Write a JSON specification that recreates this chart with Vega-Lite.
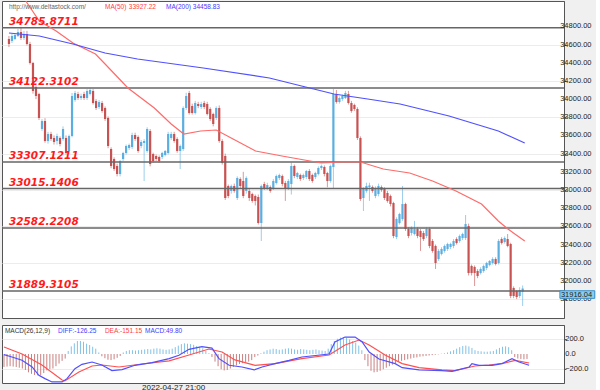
{
"$schema": "https://vega.github.io/schema/vega-lite/v6.json",
"padding": 0,
"background": "#f0f0f0",
"spacing": 5,
"config": {"view": {"stroke": "#555", "strokeWidth": 1, "fill": "white"}, "font": "Liberation Sans",
 "axis": {"labelFont": "Liberation Sans", "labelColor": "#222", "tickColor": "#555", "domainColor": "#555", "gridColor": "#ececec", "title": null}},
"datasets": {
"candles": [
{"t":0,"o":34661,"h":34694,"l":34573,"c":34606,"m":-170},
{"t":1,"o":34639,"h":34716,"l":34617,"c":34694,"m":-165},
{"t":2,"o":34661,"h":34727,"l":34650,"c":34705,"m":-160},
{"t":3,"o":34694,"h":34771,"l":34683,"c":34738,"m":-165},
{"t":4,"o":34738,"h":34782,"l":34650,"c":34672,"m":-170},
{"t":5,"o":34672,"h":34750,"l":34650,"c":34716,"m":-180},
{"t":6,"o":34716,"h":34750,"l":34590,"c":34606,"m":-190},
{"t":7,"o":34606,"h":34630,"l":34380,"c":34397,"m":-210},
{"t":8,"o":34397,"h":34410,"l":34060,"c":34089,"m":-240},
{"t":9,"o":34133,"h":34150,"l":34000,"c":34034,"m":-260},
{"t":10,"o":34056,"h":34070,"l":33770,"c":33792,"m":-275},
{"t":11,"o":33671,"h":33780,"l":33650,"c":33759,"m":-280},
{"t":12,"o":33759,"h":33790,"l":33520,"c":33539,"m":-280},
{"t":13,"o":33539,"h":33640,"l":33510,"c":33616,"m":-250},
{"t":14,"o":33616,"h":33640,"l":33540,"c":33561,"m":-215},
{"t":15,"o":33572,"h":33600,"l":33500,"c":33528,"m":-200},
{"t":16,"o":33539,"h":33620,"l":33500,"c":33594,"m":-190},
{"t":17,"o":33572,"h":33590,"l":33480,"c":33506,"m":-160},
{"t":18,"o":33561,"h":33700,"l":33540,"c":33671,"m":-125},
{"t":19,"o":33572,"h":33600,"l":33390,"c":33407,"m":-90},
{"t":20,"o":33429,"h":33610,"l":33400,"c":33594,"m":-60},
{"t":21,"o":33594,"h":34067,"l":33580,"c":34034,"m":40},
{"t":22,"o":33990,"h":34090,"l":33970,"c":34067,"m":100},
{"t":23,"o":34056,"h":34080,"l":33990,"c":34012,"m":140},
{"t":24,"o":34012,"h":34060,"l":33990,"c":34034,"m":170},
{"t":25,"o":34056,"h":34080,"l":33990,"c":34012,"m":170},
{"t":26,"o":34012,"h":34110,"l":33990,"c":34089,"m":160},
{"t":27,"o":34056,"h":34120,"l":34040,"c":34100,"m":135},
{"t":28,"o":34089,"h":34110,"l":33940,"c":33957,"m":118},
{"t":29,"o":33979,"h":34000,"l":33880,"c":33902,"m":95},
{"t":30,"o":33913,"h":33990,"l":33890,"c":33968,"m":70},
{"t":31,"o":33957,"h":33980,"l":33850,"c":33869,"m":20},
{"t":32,"o":33902,"h":33920,"l":33760,"c":33781,"m":-30},
{"t":33,"o":33792,"h":33810,"l":33460,"c":33484,"m":-55},
{"t":34,"o":33451,"h":33470,"l":33240,"c":33264,"m":-75},
{"t":35,"o":33341,"h":33360,"l":33210,"c":33231,"m":-80},
{"t":36,"o":33264,"h":33290,"l":33150,"c":33176,"m":-70},
{"t":37,"o":33176,"h":33330,"l":33150,"c":33319,"m":-50},
{"t":38,"o":33341,"h":33420,"l":33320,"c":33407,"m":-25},
{"t":39,"o":33407,"h":33500,"l":33390,"c":33484,"m":20},
{"t":40,"o":33462,"h":33510,"l":33440,"c":33495,"m":40},
{"t":41,"o":33473,"h":33630,"l":33450,"c":33605,"m":50},
{"t":42,"o":33605,"h":33630,"l":33540,"c":33561,"m":50},
{"t":43,"o":33583,"h":33600,"l":33410,"c":33429,"m":45},
{"t":44,"o":33484,"h":33550,"l":33460,"c":33528,"m":50},
{"t":45,"o":33517,"h":33560,"l":33099,"c":33539,"m":55},
{"t":46,"o":33429,"h":33690,"l":33410,"c":33671,"m":60},
{"t":47,"o":33649,"h":33671,"l":33260,"c":33286,"m":65},
{"t":48,"o":33396,"h":33410,"l":33300,"c":33319,"m":60},
{"t":49,"o":33374,"h":33390,"l":33320,"c":33341,"m":70},
{"t":50,"o":33363,"h":33380,"l":33300,"c":33319,"m":75},
{"t":51,"o":33363,"h":33420,"l":33340,"c":33407,"m":70},
{"t":52,"o":33385,"h":33440,"l":33370,"c":33429,"m":60},
{"t":53,"o":33407,"h":33640,"l":33390,"c":33616,"m":55},
{"t":54,"o":33572,"h":33640,"l":33550,"c":33616,"m":60},
{"t":55,"o":33616,"h":33640,"l":33520,"c":33539,"m":70},
{"t":56,"o":33561,"h":33580,"l":33410,"c":33429,"m":90},
{"t":57,"o":33429,"h":33500,"l":33231,"c":33484,"m":110},
{"t":58,"o":33451,"h":33920,"l":33430,"c":33902,"m":130},
{"t":59,"o":33902,"h":34070,"l":33880,"c":34034,"m":140},
{"t":60,"o":34067,"h":34090,"l":33830,"c":33847,"m":135},
{"t":61,"o":33924,"h":33950,"l":33830,"c":33847,"m":130},
{"t":62,"o":33847,"h":33980,"l":33830,"c":33957,"m":120},
{"t":63,"o":33946,"h":33970,"l":33900,"c":33924,"m":105},
{"t":64,"o":33913,"h":33970,"l":33890,"c":33946,"m":95},
{"t":65,"o":33957,"h":33980,"l":33890,"c":33913,"m":75},
{"t":66,"o":33946,"h":33970,"l":33820,"c":33836,"m":40},
{"t":67,"o":33891,"h":33910,"l":33760,"c":33781,"m":10},
{"t":68,"o":33836,"h":33850,"l":33700,"c":33726,"m":-40},
{"t":69,"o":33792,"h":33920,"l":33770,"c":33902,"m":-100},
{"t":70,"o":33902,"h":33930,"l":33520,"c":33539,"m":-160},
{"t":71,"o":33539,"h":33560,"l":33280,"c":33297,"m":-200},
{"t":72,"o":33374,"h":33400,"l":32890,"c":32912,"m":-215},
{"t":73,"o":33044,"h":33060,"l":32910,"c":32934,"m":-210},
{"t":74,"o":32989,"h":33060,"l":32960,"c":33044,"m":-190},
{"t":75,"o":33044,"h":33070,"l":32970,"c":32989,"m":-170},
{"t":76,"o":32912,"h":33150,"l":32890,"c":33132,"m":-150},
{"t":77,"o":33121,"h":33140,"l":33020,"c":33044,"m":-130},
{"t":78,"o":33099,"h":33200,"l":32910,"c":32934,"m":-120},
{"t":79,"o":32989,"h":33150,"l":32960,"c":33132,"m":-110},
{"t":80,"o":32989,"h":33010,"l":32880,"c":32912,"m":-100},
{"t":81,"o":32956,"h":32970,"l":32860,"c":32879,"m":-80},
{"t":82,"o":32934,"h":32950,"l":32830,"c":32879,"m":-40},
{"t":83,"o":32923,"h":32950,"l":32620,"c":32637,"m":-20},
{"t":84,"o":32637,"h":33060,"l":32439,"c":33044,"m":10},
{"t":85,"o":33066,"h":33090,"l":33000,"c":33022,"m":30},
{"t":86,"o":33022,"h":33080,"l":33000,"c":33055,"m":50},
{"t":87,"o":33033,"h":33050,"l":32970,"c":32989,"m":60},
{"t":88,"o":33022,"h":33120,"l":33000,"c":33099,"m":70},
{"t":89,"o":33077,"h":33170,"l":33060,"c":33154,"m":65},
{"t":90,"o":33132,"h":33180,"l":33110,"c":33165,"m":55},
{"t":91,"o":33154,"h":33170,"l":33040,"c":33066,"m":60},
{"t":92,"o":33077,"h":33100,"l":32880,"c":33011,"m":70},
{"t":93,"o":33022,"h":33120,"l":33000,"c":33099,"m":75},
{"t":94,"o":33066,"h":33300,"l":32950,"c":33264,"m":70},
{"t":95,"o":33264,"h":33280,"l":33130,"c":33154,"m":60},
{"t":96,"o":33143,"h":33200,"l":33120,"c":33187,"m":55},
{"t":97,"o":33165,"h":33180,"l":33100,"c":33121,"m":65},
{"t":98,"o":33132,"h":33180,"l":33110,"c":33165,"m":60},
{"t":99,"o":33143,"h":33220,"l":33120,"c":33209,"m":55},
{"t":100,"o":33209,"h":33230,"l":33100,"c":33121,"m":50},
{"t":101,"o":33165,"h":33180,"l":33080,"c":33099,"m":55},
{"t":102,"o":33143,"h":33200,"l":33120,"c":33187,"m":60},
{"t":103,"o":33176,"h":33260,"l":33160,"c":33242,"m":50},
{"t":104,"o":33242,"h":33280,"l":33220,"c":33264,"m":45},
{"t":105,"o":33253,"h":33270,"l":33150,"c":33176,"m":40},
{"t":106,"o":33187,"h":33200,"l":33030,"c":33099,"m":70},
{"t":107,"o":33099,"h":33280,"l":33080,"c":33264,"m":130},
{"t":108,"o":33253,"h":34111,"l":33022,"c":34056,"m":170},
{"t":109,"o":34056,"h":34100,"l":33950,"c":33968,"m":200},
{"t":110,"o":33968,"h":34030,"l":33950,"c":34012,"m":215},
{"t":111,"o":34001,"h":34050,"l":33980,"c":34034,"m":220},
{"t":112,"o":34012,"h":34090,"l":34000,"c":34067,"m":210},
{"t":113,"o":34056,"h":34090,"l":33940,"c":33957,"m":190},
{"t":114,"o":33957,"h":33980,"l":33850,"c":33869,"m":170},
{"t":115,"o":33935,"h":33950,"l":33870,"c":33891,"m":150},
{"t":116,"o":33891,"h":33910,"l":33550,"c":33572,"m":110},
{"t":117,"o":33572,"h":33590,"l":32880,"c":32901,"m":50},
{"t":118,"o":32912,"h":33030,"l":32769,"c":33011,"m":-80},
{"t":119,"o":32989,"h":33080,"l":32970,"c":33044,"m":-160},
{"t":120,"o":33033,"h":33080,"l":32880,"c":33050,"m":-220},
{"t":121,"o":33033,"h":33050,"l":32970,"c":32989,"m":-240},
{"t":122,"o":32934,"h":33040,"l":32910,"c":33022,"m":-235},
{"t":123,"o":32956,"h":33070,"l":32930,"c":33044,"m":-220},
{"t":124,"o":33033,"h":33050,"l":32980,"c":33000,"m":-200},
{"t":125,"o":33011,"h":33030,"l":32890,"c":32912,"m":-180},
{"t":126,"o":32967,"h":32990,"l":32860,"c":32879,"m":-160},
{"t":127,"o":32934,"h":32950,"l":32820,"c":32846,"m":-140},
{"t":128,"o":32857,"h":32870,"l":32470,"c":32494,"m":-120},
{"t":129,"o":32483,"h":32700,"l":32460,"c":32681,"m":-100},
{"t":130,"o":32637,"h":32750,"l":32620,"c":32736,"m":-90},
{"t":131,"o":32681,"h":33044,"l":32660,"c":32846,"m":-80},
{"t":132,"o":32846,"h":32860,"l":32550,"c":32571,"m":-70},
{"t":133,"o":32571,"h":32590,"l":32470,"c":32494,"m":-60},
{"t":134,"o":32527,"h":32600,"l":32500,"c":32582,"m":-50},
{"t":135,"o":32516,"h":32660,"l":32500,"c":32571,"m":-45},
{"t":136,"o":32571,"h":32590,"l":32470,"c":32494,"m":-35},
{"t":137,"o":32549,"h":32570,"l":32330,"c":32483,"m":-30},
{"t":138,"o":32527,"h":32550,"l":32440,"c":32461,"m":-25},
{"t":139,"o":32494,"h":32590,"l":32470,"c":32571,"m":-20},
{"t":140,"o":32571,"h":32590,"l":32360,"c":32384,"m":-15},
{"t":141,"o":32439,"h":32460,"l":32310,"c":32329,"m":-10},
{"t":142,"o":32384,"h":32400,"l":32131,"c":32197,"m":-5},
{"t":143,"o":32241,"h":32350,"l":32220,"c":32329,"m":5},
{"t":144,"o":32296,"h":32370,"l":32280,"c":32351,"m":10},
{"t":145,"o":32329,"h":32400,"l":32310,"c":32384,"m":20},
{"t":146,"o":32351,"h":32420,"l":32330,"c":32406,"m":35},
{"t":147,"o":32373,"h":32420,"l":32350,"c":32406,"m":50},
{"t":148,"o":32384,"h":32460,"l":32360,"c":32439,"m":70},
{"t":149,"o":32461,"h":32480,"l":32400,"c":32417,"m":90},
{"t":150,"o":32439,"h":32510,"l":32420,"c":32494,"m":105},
{"t":151,"o":32472,"h":32530,"l":32450,"c":32516,"m":110},
{"t":152,"o":32472,"h":32725,"l":32450,"c":32626,"m":100},
{"t":153,"o":32604,"h":32630,"l":32060,"c":32087,"m":80},
{"t":154,"o":32164,"h":32180,"l":32060,"c":32087,"m":50},
{"t":155,"o":32153,"h":32170,"l":31944,"c":32087,"m":40},
{"t":156,"o":32109,"h":32130,"l":32030,"c":32054,"m":35},
{"t":157,"o":32087,"h":32150,"l":32070,"c":32131,"m":30},
{"t":158,"o":32109,"h":32180,"l":32090,"c":32164,"m":30},
{"t":159,"o":32142,"h":32210,"l":32120,"c":32197,"m":35},
{"t":160,"o":32175,"h":32230,"l":32160,"c":32219,"m":40},
{"t":161,"o":32197,"h":32260,"l":32180,"c":32241,"m":60},
{"t":162,"o":32241,"h":32260,"l":32170,"c":32186,"m":80},
{"t":163,"o":32197,"h":32460,"l":32180,"c":32439,"m":95},
{"t":164,"o":32461,"h":32480,"l":32400,"c":32417,"m":100},
{"t":165,"o":32428,"h":32490,"l":32410,"c":32472,"m":90},
{"t":166,"o":32461,"h":32516,"l":32370,"c":32384,"m":50},
{"t":167,"o":32406,"h":32420,"l":31810,"c":31834,"m":-40},
{"t":168,"o":31922,"h":31940,"l":31810,"c":31834,"m":-60},
{"t":169,"o":31889,"h":31900,"l":31800,"c":31823,"m":-65},
{"t":170,"o":31834,"h":31930,"l":31810,"c":31900,"m":-70},
{"t":171,"o":31880,"h":31950,"l":31724,"c":31916.04,"m":-65}
],
"ma": [
{"s":"MA50","t":0,"v":35400},{"s":"MA50","t":6,"v":35060},{"s":"MA50","t":10.1,"v":34859},{"s":"MA50","t":15.7,"v":34749},{"s":"MA50","t":21.3,"v":34617},{"s":"MA50","t":28.8,"v":34496},{"s":"MA50","t":32,"v":34386},{"s":"MA50","t":39.6,"v":34122},{"s":"MA50","t":48.4,"v":33902},{"s":"MA50","t":54,"v":33726},{"s":"MA50","t":58.2,"v":33616},{"s":"MA50","t":63.8,"v":33649},{"s":"MA50","t":69,"v":33660},{"s":"MA50","t":74.6,"v":33561},{"s":"MA50","t":82.1,"v":33429},{"s":"MA50","t":90.9,"v":33374},{"s":"MA50","t":96.5,"v":33341},{"s":"MA50","t":104,"v":33297},{"s":"MA50","t":110.5,"v":33308},{"s":"MA50","t":117,"v":33308},{"s":"MA50","t":124.6,"v":33231},{"s":"MA50","t":133.4,"v":33187},{"s":"MA50","t":141,"v":33099},{"s":"MA50","t":148.8,"v":32989},{"s":"MA50","t":157.3,"v":32846},{"s":"MA50","t":162.9,"v":32659},{"s":"MA50","t":166.1,"v":32571},{"s":"MA50","t":168.4,"v":32516},{"s":"MA50","t":171.7,"v":32439},
{"s":"MA200","t":0,"v":34727},{"s":"MA200","t":10.1,"v":34694},{"s":"MA200","t":21.3,"v":34606},{"s":"MA200","t":32,"v":34507},{"s":"MA200","t":42.8,"v":34441},{"s":"MA200","t":64.7,"v":34342},{"s":"MA200","t":86.7,"v":34232},{"s":"MA200","t":97.4,"v":34144},{"s":"MA200","t":108.2,"v":34056},{"s":"MA200","t":119.4,"v":34001},{"s":"MA200","t":130.2,"v":33946},{"s":"MA200","t":146.5,"v":33814},{"s":"MA200","t":162.9,"v":33649},{"s":"MA200","t":171.7,"v":33517}
],
"macd": [
{"s":"DIFF","t":0,"v":-9},{"s":"DIFF","t":2.6,"v":-39},{"s":"DIFF","t":5.9,"v":-82},{"s":"DIFF","t":9.2,"v":-170},{"s":"DIFF","t":11.4,"v":-279},{"s":"DIFF","t":13.4,"v":-323},{"s":"DIFF","t":15.7,"v":-366},{"s":"DIFF","t":19,"v":-366},{"s":"DIFF","t":20.6,"v":-323},{"s":"DIFF","t":23.2,"v":-192},{"s":"DIFF","t":25.5,"v":-135},{"s":"DIFF","t":28.8,"v":-105},{"s":"DIFF","t":32,"v":-144},{"s":"DIFF","t":35.3,"v":-218},{"s":"DIFF","t":38.6,"v":-205},{"s":"DIFF","t":42.8,"v":-148},{"s":"DIFF","t":48.4,"v":-113},{"s":"DIFF","t":54,"v":-61},{"s":"DIFF","t":57.2,"v":-17},{"s":"DIFF","t":60.5,"v":61},{"s":"DIFF","t":64.7,"v":96},{"s":"DIFF","t":68,"v":78},{"s":"DIFF","t":70.3,"v":-61},{"s":"DIFF","t":73.6,"v":-148},{"s":"DIFF","t":77.8,"v":-170},{"s":"DIFF","t":81.8,"v":-209},{"s":"DIFF","t":84.4,"v":-170},{"s":"DIFF","t":88.6,"v":-126},{"s":"DIFF","t":93.2,"v":-83},{"s":"DIFF","t":97.4,"v":-39},{"s":"DIFF","t":106.3,"v":0},{"s":"DIFF","t":108.2,"v":157},{"s":"DIFF","t":111.5,"v":222},{"s":"DIFF","t":114.8,"v":222},{"s":"DIFF","t":117.1,"v":157},{"s":"DIFF","t":119.4,"v":26},{"s":"DIFF","t":122.6,"v":-65},{"s":"DIFF","t":127.9,"v":-126},{"s":"DIFF","t":130.2,"v":-179},{"s":"DIFF","t":135.7,"v":-209},{"s":"DIFF","t":143.2,"v":-218},{"s":"DIFF","t":146.5,"v":-228},{"s":"DIFF","t":152.1,"v":-170},{"s":"DIFF","t":153,"v":-126},{"s":"DIFF","t":155.3,"v":-148},{"s":"DIFF","t":159.6,"v":-148},{"s":"DIFF","t":162.9,"v":-126},{"s":"DIFF","t":166.1,"v":-61},{"s":"DIFF","t":168.4,"v":-105},{"s":"DIFF","t":171.7,"v":-148},
{"s":"DEA","t":0,"v":92},{"s":"DEA","t":5.9,"v":0},{"s":"DEA","t":12.4,"v":-144},{"s":"DEA","t":19,"v":-340},{"s":"DEA","t":19.9,"v":-353},{"s":"DEA","t":24.5,"v":-235},{"s":"DEA","t":28.8,"v":-157},{"s":"DEA","t":32,"v":-144},{"s":"DEA","t":37.6,"v":-170},{"s":"DEA","t":45.1,"v":-131},{"s":"DEA","t":54,"v":-91},{"s":"DEA","t":60.5,"v":-13},{"s":"DEA","t":67,"v":65},{"s":"DEA","t":71.3,"v":26},{"s":"DEA","t":75.5,"v":-78},{"s":"DEA","t":82.1,"v":-148},{"s":"DEA","t":88.6,"v":-126},{"s":"DEA","t":97.4,"v":-61},{"s":"DEA","t":106.3,"v":-13},{"s":"DEA","t":111.5,"v":118},{"s":"DEA","t":116.1,"v":183},{"s":"DEA","t":119.4,"v":118},{"s":"DEA","t":124.6,"v":-13},{"s":"DEA","t":130.2,"v":-126},{"s":"DEA","t":135.7,"v":-179},{"s":"DEA","t":143.2,"v":-209},{"s":"DEA","t":147.5,"v":-218},{"s":"DEA","t":154,"v":-157},{"s":"DEA","t":158.6,"v":-144},{"s":"DEA","t":163.8,"v":-118},{"s":"DEA","t":167.1,"v":-83},{"s":"DEA","t":171.7,"v":-118}
],
"levels": [
{"p":34785.8711,"lab":"34785.8711"},{"p":34122.3102,"lab":"34122.3102"},{"p":33307.1211,"lab":"33307.1211"},{"p":33015.1406,"lab":"33015.1406"},{"p":32582.2208,"lab":"32582.2208"},{"p":31889.3105,"lab":"31889.3105"}
],
"pticks": [{"v":31800},{"v":32000},{"v":32200},{"v":32400},{"v":32600},{"v":32800},{"v":33000},{"v":33200},{"v":33400},{"v":33600},{"v":33800},{"v":34000},{"v":34200},{"v":34400},{"v":34600},{"v":34800}],
"mticks": [{"v":-200},{"v":0},{"v":200}],
"hdr": [
{"t":0,"txt":"http://www.deltastock.com/","col":"#666666"},{"t":32,"txt":"MA(50)","col":"#ff4040"},{"t":39.9,"txt":"33927.22","col":"#ff4040"},{"t":52.3,"txt":"MA(200)","col":"#4040ff"},{"t":61.2,"txt":"34458.83","col":"#4040ff"}
],
"mhdr": [
{"t":0.3,"txt":"MACD(26,12,9)","col":"#333333"},{"t":17.7,"txt":"DIFF:-126.25","col":"#4040ff"},{"t":33,"txt":"DEA:-151.15","col":"#ff4040"},{"t":46.1,"txt":"MACD:49.80","col":"#4040ff"}
]
},
"vconcat": [
{
"width": 562, "height": 317,
"layer": [
{"data": {"name": "candles"}, "mark": {"type": "rule", "strokeWidth": 1, "opacity": 0.6},
 "encoding": {
  "x": {"field": "t", "type": "quantitative", "scale": {"domain": [-0.65, 183.1], "nice": false, "zero": false}, "axis": null},
  "y": {"field": "l", "type": "quantitative", "scale": {"domain": [31592, 35079], "nice": false, "zero": false},
        "axis": {"orient": "right", "values": [31800,32000,32200,32400,32600,32800,33000,33200,33400,33600,33800,34000,34200,34400,34600,34800], "labels": false, "tickSize": 2, "grid": true}},
  "y2": {"field": "h"},
  "color": {"condition": {"test": "datum.c >= datum.o", "value": "#5aaee0"}, "value": "#c85252"}}},
{"data": {"name": "candles"}, "mark": {"type": "bar", "size": 2.2},
 "encoding": {
  "x": {"field": "t", "type": "quantitative"},
  "y": {"field": "o", "type": "quantitative"},
  "y2": {"field": "c"},
  "color": {"condition": {"test": "datum.c >= datum.o", "value": "#5aaee0"}, "value": "#c85252"}}},
{"data": {"name": "levels"}, "mark": {"type": "rule", "color": "#666666", "strokeWidth": 1.5},
 "encoding": {"y": {"field": "p", "type": "quantitative"}}},
{"data": {"name": "ma"}, "transform": [{"filter": "datum.s == 'MA50'"}], "mark": {"type": "line", "color": "#ff6a6a", "strokeWidth": 1.2, "clip": true},
 "encoding": {"x": {"field": "t", "type": "quantitative"}, "y": {"field": "v", "type": "quantitative"}}},
{"data": {"name": "ma"}, "transform": [{"filter": "datum.s == 'MA200'"}], "mark": {"type": "line", "color": "#5050ff", "strokeWidth": 1.2, "clip": true},
 "encoding": {"x": {"field": "t", "type": "quantitative"}, "y": {"field": "v", "type": "quantitative"}}},
{"data": {"name": "levels"}, "mark": {"type": "text", "align": "left", "baseline": "alphabetic", "dy": -3, "font": "DejaVu Sans", "fontSize": 10.5, "fontWeight": "bold", "fontStyle": "italic", "color": "#ff1a1a"},
 "encoding": {"x": {"datum": 0}, "y": {"field": "p", "type": "quantitative"}, "text": {"field": "lab"}}},
{"data": {"name": "hdr"}, "mark": {"type": "text", "align": "left", "baseline": "middle", "fontSize": 6.5},
 "encoding": {"x": {"field": "t", "type": "quantitative"}, "y": {"datum": 35013}, "text": {"field": "txt"}, "color": {"field": "col", "type": "nominal", "scale": null}}},
{"data": {"name": "pticks"}, "mark": {"type": "text", "align": "left", "baseline": "middle", "fontSize": 7.5, "color": "#222"},
 "encoding": {"x": {"datum": 183.5}, "y": {"field": "v", "type": "quantitative"}, "text": {"field": "v", "type": "quantitative", "format": ".2f"}}},
{"data": {"values": [{"a": 1}]}, "mark": {"type": "rect", "fill": "#87cef0", "stroke": "#3a90c8", "strokeWidth": 1},
 "encoding": {"x": {"datum": 183.4}, "x2": {"datum": 195}, "y": {"datum": 31892}, "y2": {"datum": 31808}}},
{"data": {"values": [{"lab": "31916.04"}]}, "mark": {"type": "text", "align": "left", "baseline": "middle", "fontSize": 7.5, "color": "#222", "dx": 1},
 "encoding": {"x": {"datum": 183.4}, "y": {"datum": 31850}, "text": {"field": "lab"}}}
]
},
{
"width": 562, "height": 58,
"layer": [
{"data": {"name": "candles"}, "mark": {"type": "rule", "strokeWidth": 1},
 "encoding": {
  "x": {"field": "t", "type": "quantitative", "scale": {"domain": [-0.65, 183.1], "nice": false, "zero": false},
        "axis": {"values": [55.3], "labelExpr": "'2022-04-27 21:00'", "ticks": false, "domain": false, "grid": false, "labelFontSize": 8, "labelPadding": 0, "labelColor": "#222"}},
  "y": {"field": "m", "type": "quantitative", "scale": {"domain": [-380, 380], "nice": false, "zero": false},
        "axis": {"orient": "right", "values": [-200, 0, 200], "labels": false, "tickSize": 2, "grid": true}},
  "y2": {"datum": 0},
  "color": {"condition": {"test": "datum.m >= 0", "value": "#82c2e6"}, "value": "#c98080"}}},
{"data": {"name": "macd"}, "transform": [{"filter": "datum.s == 'DEA'"}], "mark": {"type": "line", "color": "#ff5050", "strokeWidth": 1.2},
 "encoding": {"x": {"field": "t", "type": "quantitative"}, "y": {"field": "v", "type": "quantitative"}}},
{"data": {"name": "macd"}, "transform": [{"filter": "datum.s == 'DIFF'"}], "mark": {"type": "line", "color": "#5050ff", "strokeWidth": 1.2},
 "encoding": {"x": {"field": "t", "type": "quantitative"}, "y": {"field": "v", "type": "quantitative"}}},
{"data": {"name": "mhdr"}, "mark": {"type": "text", "align": "left", "baseline": "middle", "fontSize": 6.5},
 "encoding": {"x": {"field": "t", "type": "quantitative"}, "y": {"datum": 300}, "text": {"field": "txt"}, "color": {"field": "col", "type": "nominal", "scale": null}}},
{"data": {"name": "mticks"}, "mark": {"type": "text", "align": "left", "baseline": "middle", "fontSize": 7.5, "color": "#222"},
 "encoding": {"x": {"datum": 183.5}, "y": {"field": "v", "type": "quantitative"}, "text": {"field": "v", "type": "quantitative", "format": ".1f"}}}
]
}
]
}
